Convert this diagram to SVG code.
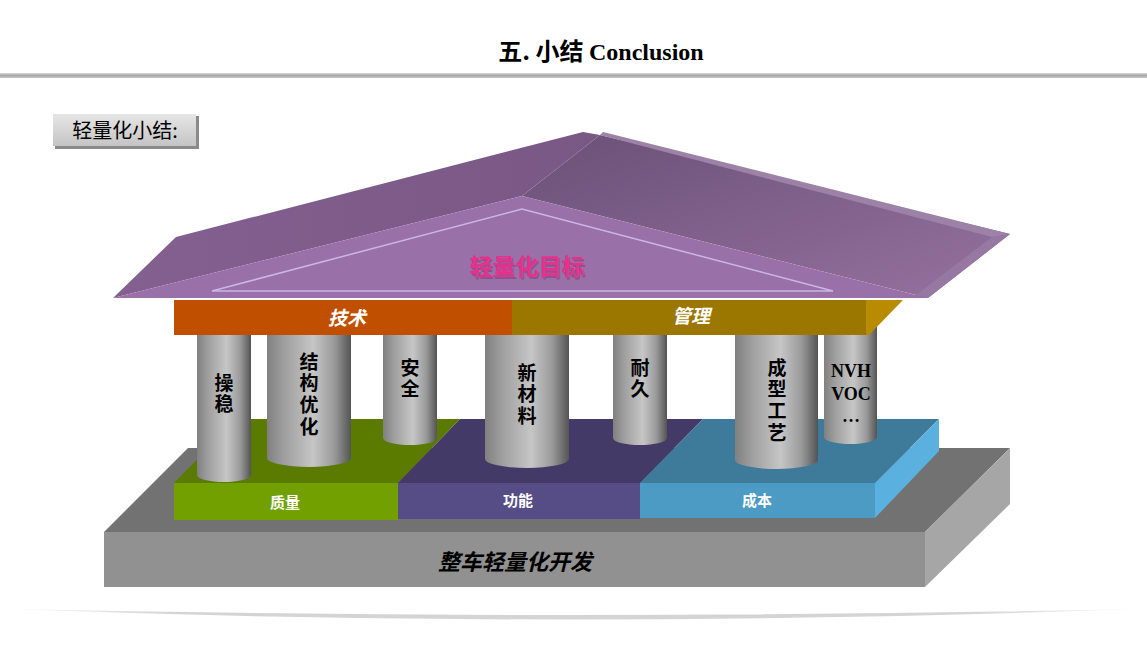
<svg xmlns="http://www.w3.org/2000/svg" width="1147" height="646" viewBox="0 0 1147 646">
<defs>
<style>
.cjk{font-family:"Noto Sans CJK SC","Liberation Sans",sans-serif;}
.ptxt{font-family:"Noto Sans CJK SC","Liberation Sans",sans-serif;font-size:19px;font-weight:bold;fill:#000;writing-mode:vertical-rl;letter-spacing:2.6px;}
.blk{font-family:"Noto Sans CJK SC","Liberation Sans",sans-serif;font-size:15px;font-weight:bold;fill:#fff;text-anchor:middle;}
.beam{font-family:"Noto Sans CJK SC","Liberation Sans",sans-serif;font-size:19px;font-weight:bold;font-style:italic;fill:#fff;text-anchor:middle;}
.lat{font-family:"Liberation Serif",serif;font-size:18px;font-weight:bold;fill:#000;text-anchor:middle;}
.cyl{fill:url(#cylG);}
</style>
<linearGradient id="cylG" x1="0" y1="0" x2="1" y2="0">
<stop offset="0" stop-color="#808080"/>
<stop offset="0.2" stop-color="#9e9e9e"/>
<stop offset="0.55" stop-color="#c6c6c6"/>
<stop offset="0.8" stop-color="#9a9a9a"/>
<stop offset="1" stop-color="#545454"/>
</linearGradient>
<linearGradient id="lineG" x1="0" y1="0" x2="0" y2="1">
<stop offset="0" stop-color="#d8d8d8"/>
<stop offset="0.5" stop-color="#a8a8a8"/>
<stop offset="1" stop-color="#c8c8c8"/>
</linearGradient>
<linearGradient id="btnG" x1="0" y1="0" x2="0" y2="1">
<stop offset="0" stop-color="#e6e6e6"/>
<stop offset="1" stop-color="#c4c4c4"/>
</linearGradient>
<linearGradient id="rightSlope" x1="0" y1="0" x2="1" y2="1">
<stop offset="0" stop-color="#6a5077"/>
<stop offset="1" stop-color="#96729f"/>
</linearGradient>
<linearGradient id="leftSlope" x1="0" y1="0" x2="1" y2="0">
<stop offset="0" stop-color="#83608f"/>
<stop offset="1" stop-color="#7a5886"/>
</linearGradient>
<linearGradient id="shadowG" x1="0" y1="0" x2="1" y2="0">
<stop offset="0" stop-color="#f4f4f4"/>
<stop offset="0.15" stop-color="#d4d4d4"/>
<stop offset="0.85" stop-color="#d4d4d4"/>
<stop offset="1" stop-color="#f4f4f4"/>
</linearGradient>
</defs>
<rect width="1147" height="646" fill="#ffffff"/>

<g id="title">
<text x="601" y="60" text-anchor="middle" font-size="24" font-weight="bold" fill="#000"><tspan font-family="Noto Sans CJK SC, sans-serif">五. 小结 </tspan><tspan font-family="Liberation Serif, serif">Conclusion</tspan></text>
<rect x="0" y="73" width="1147" height="5" fill="url(#lineG)"/>
</g>

<g id="label-box">
<rect x="55" y="116" width="144" height="33" fill="#8a8a8a"/>
<rect x="53" y="114" width="143" height="32" fill="url(#btnG)"/>
<text x="125" y="138" text-anchor="middle" class="cjk" font-size="20" fill="#000">轻量化小结:</text>
</g>

<g id="base">
<polygon points="104,532 188,448 1010,448 925,532" fill="#727272"/>
<polygon points="925,532 1010,448 1010,504 925,587" fill="#a6a6a6"/>
<rect x="104" y="532" width="821" height="55" fill="#919191"/>
<text x="515" y="570" text-anchor="middle" class="cjk" font-size="22" font-weight="bold" font-style="italic" fill="#000">整车轻量化开发</text>
</g>

<g id="block-quality">
<polygon points="174,483 237,419 460,419 398,483" fill="#5a7a00"/>
<rect x="174" y="483" width="224" height="37" fill="#72a000"/>
<text x="285" y="508" class="blk">质量</text>
</g>
<g id="block-function">
<polygon points="398,483 460,419 703,419 640,483" fill="#443a68"/>
<rect x="398" y="483" width="242" height="36" fill="#574d86"/>
<text x="518" y="506" class="blk">功能</text>
</g>
<g id="block-cost">
<polygon points="640,483 703,419 939,419 875,483" fill="#3e7b9b"/>
<polygon points="875,483 939,419 939,451 875,518" fill="#5ab0df"/>
<rect x="640" y="483" width="235" height="35" fill="#4b9bc4"/>
<text x="757" y="506" class="blk">成本</text>
</g>

<g id="pillar-handling">
<rect x="197" y="330" width="54" height="145" class="cyl"/>
<ellipse cx="224" cy="475" rx="27" ry="7" class="cyl"/>
<text x="224" y="373" class="ptxt">操稳</text>
</g>
<g id="pillar-structure">
<rect x="267" y="330" width="84" height="128" class="cyl"/>
<ellipse cx="309" cy="458" rx="42" ry="9" class="cyl"/>
<text x="309" y="352" class="ptxt">结构优化</text>
</g>
<g id="pillar-safety">
<rect x="383" y="330" width="54" height="108" class="cyl"/>
<ellipse cx="410" cy="438" rx="27" ry="7" class="cyl"/>
<text x="410" y="358" class="ptxt">安全</text>
</g>
<g id="pillar-material">
<rect x="485" y="330" width="84" height="129" class="cyl"/>
<ellipse cx="527" cy="459" rx="42" ry="9" class="cyl"/>
<text x="527" y="363" class="ptxt">新材料</text>
</g>
<g id="pillar-durability">
<rect x="613" y="330" width="54" height="108" class="cyl"/>
<ellipse cx="640" cy="438" rx="27" ry="7" class="cyl"/>
<text x="640" y="358" class="ptxt">耐久</text>
</g>
<g id="pillar-process">
<rect x="735" y="330" width="83" height="130" class="cyl"/>
<ellipse cx="776.5" cy="460" rx="41.5" ry="9" class="cyl"/>
<text x="777" y="358" class="ptxt">成型工艺</text>
</g>
<g id="pillar-nvh">
<rect x="824" y="300" width="53" height="137" class="cyl"/>
<ellipse cx="850.5" cy="437" rx="26.5" ry="7" class="cyl"/>
<text class="lat"><tspan x="851" y="377">NVH</tspan><tspan x="851" y="400">VOC</tspan><tspan x="851" y="422">…</tspan></text>
</g>

<g id="beam-tech">
<rect x="174" y="300" width="338" height="35" fill="#c04f00"/>
<text x="347" y="325" class="beam">技术</text>
</g>
<g id="beam-mgmt">
<rect x="512" y="300" width="354" height="35" fill="#9b7700"/>
<polygon points="866,300 903,300 869,335 866,335" fill="#b98b00"/>
<text x="691" y="323" class="beam">管理</text>
</g>

<g id="roof">
<polygon points="113,298 176,237 583,132 600,135 522,196" fill="url(#leftSlope)"/>
<polygon points="522,196 600,135 1010,234 928,298" fill="url(#rightSlope)"/>
<polygon points="600,135 603,132 1010,234 992,237" fill="#9b82a6"/>
<polygon points="992,237 1010,234 928,298 912,298" fill="#9778a2"/>
<polygon points="113,298 522,196 928,298" fill="#9a70a8"/>
<polygon points="212,291 522,209 833,291" fill="none" stroke="#c9b6e8" stroke-width="1.5"/>
<text x="527" y="275" text-anchor="middle" class="cjk" font-size="23" font-weight="bold" fill="#7a3a7a" opacity="0.5" transform="translate(1.5,1.5)">轻量化目标</text>
<text x="527" y="275" text-anchor="middle" class="cjk" font-size="23" font-weight="bold" fill="#e8308a">轻量化目标</text>
</g>

<g id="floor-shadow">
<path d="M 11 609 Q 570 630 1134 609 Q 570 621 11 609 Z" fill="url(#shadowG)"/>
</g>
</svg>
